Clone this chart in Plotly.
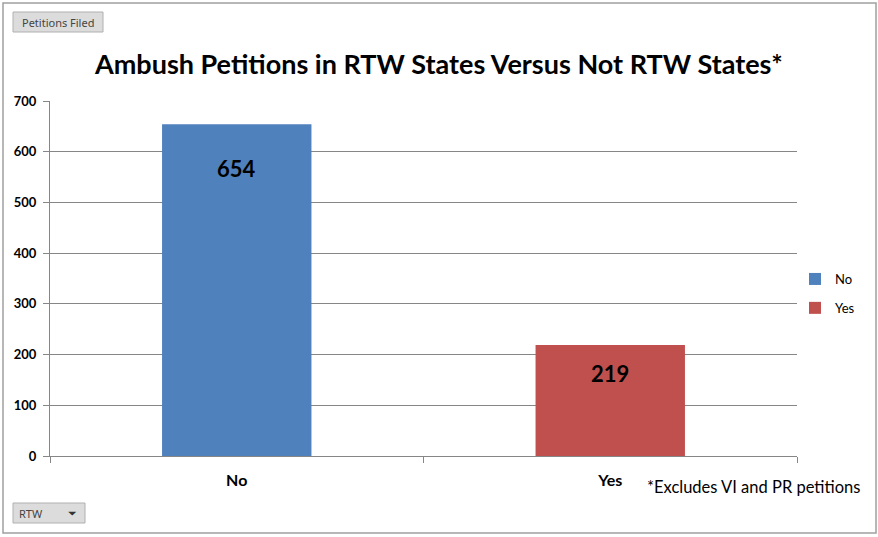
import plotly.graph_objects as go

categories = ["No", "Yes"]
values = [654, 219]
colors = ["#4F81BD", "#C0504D"]
title = "Ambush Petitions in RTW States Versus Not RTW States*"
footnote = "*Excludes VI and PR petitions"
y_ticks = [0, 100, 200, 300, 400, 500, 600, 700]

# label pixel offsets below bar tops (style)
label_shift = [-44, -29]

W, H = 878, 537
L, R, T, B = 50, 81, 101, 81
PW, PH = W - L - R, H - T - B

def px(x):
    return (x - L) / PW

def py(y):
    return (H - B - y) / PH

fig = go.Figure()
for c, v, col, sh in zip(categories, values, colors, label_shift):
    fig.add_trace(go.Bar(x=[c], y=[v], name=c, marker=dict(color=col, line=dict(width=0)),
                         width=0.4, offsetgroup=0, legendgroup=c))
    fig.add_annotation(x=c, y=v, yref="y", text=str(v), showarrow=False,
                       yshift=sh, font=dict(family="Lato", size=22, color="#000", weight="bold"))

fig.update_layout(
    width=W, height=H,
    margin=dict(l=L, r=R, t=T, b=B, autoexpand=False),
    paper_bgcolor="white", plot_bgcolor="white",
    bargap=0.6,
    showlegend=True,
    legend=dict(x=px(795), y=py(264), xanchor="left", yanchor="top",
                font=dict(family="Lato", size=13, color="#000"),
                itemwidth=30, tracegroupgap=9, bgcolor="rgba(0,0,0,0)"),
    font=dict(family="Lato"),
)
fig.update_xaxes(showline=True, linecolor="#868686", linewidth=1,
                 ticks="outside", ticklen=6, tickcolor="#868686", tickson="boundaries",
                 ticklabelstandoff=10,
                 tickfont=dict(family="Lato", size=16, color="#000", weight="bold"),
                 showgrid=False, zeroline=False)
fig.update_yaxes(range=[0, 700], tickvals=y_ticks, showline=True, linecolor="#868686",
                 linewidth=1, ticks="outside", ticklen=6, tickcolor="#868686",
                 ticklabelstandoff=4,
                 gridcolor="#868686", gridwidth=1, zeroline=False,
                 tickfont=dict(family="Lato", size=13, color="#000", weight="bold"))

# title
fig.add_annotation(xref="paper", yref="paper", x=px(438), y=py(64), text=title,
                   showarrow=False, font=dict(family="Lato", size=27, color="#000", weight="bold"),
                   xanchor="center", yanchor="middle")
# footnote
fig.add_annotation(xref="paper", yref="paper", x=px(645), y=py(487), text=footnote,
                   showarrow=False, font=dict(family="Lato", size=16.5, color="#000"),
                   xanchor="left", yanchor="middle")
# outer border
fig.add_shape(type="rect", xref="paper", yref="paper", x0=px(3), x1=px(876), y0=py(533), y1=py(3),
              line=dict(color="#A0A0A0", width=1.5), fillcolor="rgba(0,0,0,0)", layer="below")
# buttons
fig.add_shape(type="rect", xref="paper", yref="paper", x0=px(13), x1=px(103), y0=py(32), y1=py(12),
              line=dict(color="#B0B0B0", width=1), fillcolor="#DCDCDC")
fig.add_annotation(xref="paper", yref="paper", x=px(58), y=py(22), text="Petitions Filed",
                   xanchor="center", yanchor="middle",
                   showarrow=False, font=dict(family="Noto Sans", size=11, color="#444"))
fig.add_shape(type="rect", xref="paper", yref="paper", x0=px(13), x1=px(85), y0=py(523), y1=py(503),
              line=dict(color="#B0B0B0", width=1), fillcolor="#DCDCDC")
fig.add_annotation(xref="paper", yref="paper", x=px(17), y=py(513), text="RTW", xanchor="left",
                   yanchor="middle",
                   showarrow=False, font=dict(family="Noto Sans", size=11, color="#444"))
fig.add_annotation(xref="paper", yref="paper", x=px(72), y=py(513), text="⏷",
                   xanchor="center", yanchor="middle",
                   showarrow=False, font=dict(family="DejaVu Sans", size=11, color="#333"))

fig.write_html("out.html")
